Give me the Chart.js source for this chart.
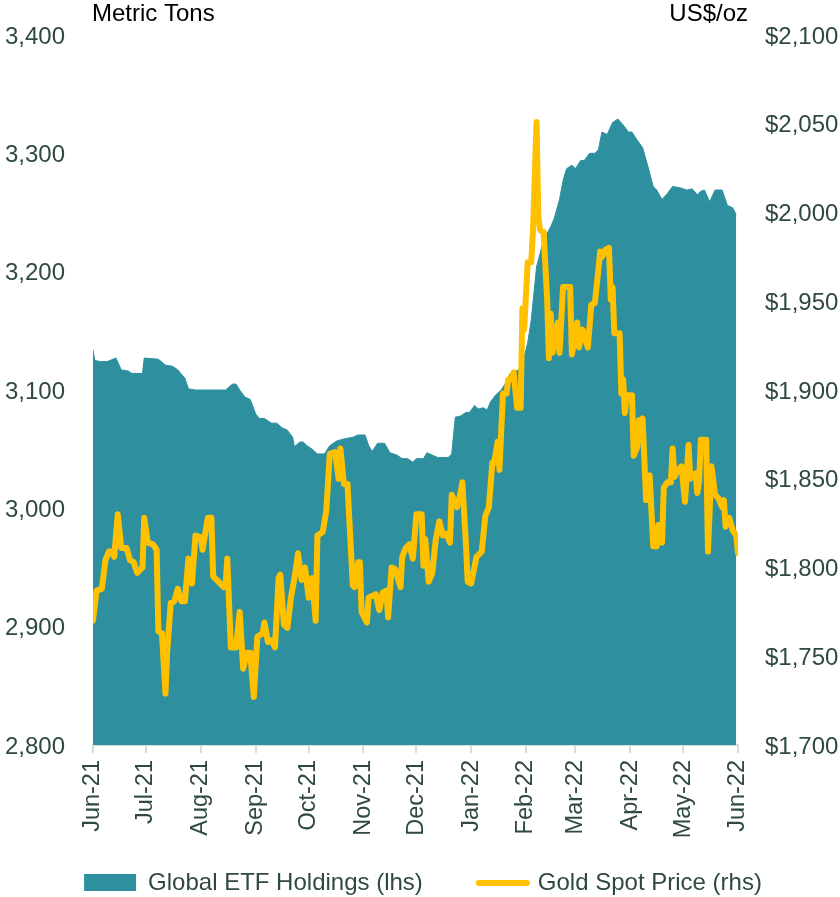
<!DOCTYPE html>
<html>
<head>
<meta charset="utf-8">
<script src="https://cdn.jsdelivr.net/npm/chart.js@4.4.1/dist/chart.umd.min.js"></script>
<style>
  html, body { margin: 0; padding: 0; background: #fff; }
  canvas { display: block; }
</style>
</head>
<body>
<canvas id="goldChart" width="840" height="897"></canvas>
<script>
// month ticks on the x axis
const monthLabels = ["Jun-21", "Jul-21", "Aug-21", "Sep-21", "Oct-21", "Nov-21", "Dec-21",
  "Jan-22", "Feb-22", "Mar-22", "Apr-22", "May-22", "Jun-22"];
const monthStarts = ["2021-06-01", "2021-07-01", "2021-08-01", "2021-09-01", "2021-10-01", "2021-11-01",
  "2021-12-01", "2022-01-01", "2022-02-01", "2022-03-01", "2022-04-01", "2022-05-01", "2022-06-01"];

// global gold ETF holdings, metric tons (lhs)
const etfDates = [
  "2021-06-01", "2021-06-02", "2021-06-05", "2021-06-09", "2021-06-14", "2021-06-17", "2021-06-21", "2021-06-23", "2021-06-29", "2021-06-30",
  "2021-07-08", "2021-07-12", "2021-07-16", "2021-07-19", "2021-07-23", "2021-07-25", "2021-07-29", "2021-08-15", "2021-08-19", "2021-08-21",
  "2021-08-23", "2021-08-26", "2021-08-29", "2021-09-01", "2021-09-03", "2021-09-06", "2021-09-10", "2021-09-13", "2021-09-16", "2021-09-19",
  "2021-09-22", "2021-09-23", "2021-09-26", "2021-09-28", "2021-09-30", "2021-10-03", "2021-10-06", "2021-10-10", "2021-10-13", "2021-10-17",
  "2021-10-22", "2021-10-26", "2021-10-29", "2021-11-02", "2021-11-04", "2021-11-06", "2021-11-09", "2021-11-13", "2021-11-16", "2021-11-20",
  "2021-11-23", "2021-11-26", "2021-11-29", "2021-12-01", "2021-12-05", "2021-12-07", "2021-12-10", "2021-12-13", "2021-12-19", "2021-12-21",
  "2021-12-23", "2021-12-26", "2021-12-29", "2021-12-31", "2022-01-03", "2022-01-05", "2022-01-08", "2022-01-10", "2022-01-12", "2022-01-15",
  "2022-01-18", "2022-01-21", "2022-01-23", "2022-01-28", "2022-01-30", "2022-02-02", "2022-02-04", "2022-02-07", "2022-02-11", "2022-02-15",
  "2022-02-17", "2022-02-20", "2022-02-22", "2022-02-24", "2022-02-27", "2022-03-01", "2022-03-04", "2022-03-06", "2022-03-09", "2022-03-12",
  "2022-03-14", "2022-03-16", "2022-03-19", "2022-03-22", "2022-03-25", "2022-03-28", "2022-03-31", "2022-04-02", "2022-04-05", "2022-04-08",
  "2022-04-11", "2022-04-14", "2022-04-16", "2022-04-19", "2022-04-22", "2022-04-25", "2022-04-29", "2022-05-03", "2022-05-06", "2022-05-09",
  "2022-05-11", "2022-05-13", "2022-05-16", "2022-05-19", "2022-05-23", "2022-05-26", "2022-05-29", "2022-05-31"
];
const etfTons = [
  3134, 3125, 3124, 3124, 3127, 3117, 3116, 3114, 3114, 3127,
  3126, 3121, 3120, 3117, 3110, 3101, 3100, 3100, 3105, 3105,
  3100, 3094, 3092, 3080, 3076, 3076, 3072, 3072, 3068, 3066,
  3060, 3052, 3056, 3056, 3053, 3050, 3046, 3046, 3053, 3057,
  3059, 3060, 3062, 3062, 3053, 3048, 3055, 3055, 3047, 3045,
  3042, 3042, 3039, 3042, 3042, 3047, 3045, 3043, 3043, 3046,
  3077, 3078, 3081, 3081, 3087, 3084, 3085, 3083, 3090, 3096,
  3100, 3107, 3114, 3117, 3122, 3140, 3159, 3204, 3227, 3238,
  3245, 3261, 3277, 3287, 3290, 3287, 3294, 3294, 3300, 3300,
  3303, 3318, 3316, 3326, 3329, 3324, 3318, 3318, 3311, 3305,
  3289, 3272, 3269, 3261, 3266, 3272, 3271, 3269, 3270, 3265,
  3268, 3269, 3259, 3269, 3269, 3256, 3254, 3248
];

// gold spot price, US$/oz (rhs)
const goldDates = [
  "2021-06-01", "2021-06-03", "2021-06-06", "2021-06-08", "2021-06-10", "2021-06-12", "2021-06-13", "2021-06-15", "2021-06-17", "2021-06-20",
  "2021-06-22", "2021-06-24", "2021-06-26", "2021-06-29", "2021-06-30", "2021-07-02", "2021-07-05", "2021-07-07", "2021-07-08", "2021-07-10",
  "2021-07-12", "2021-07-13", "2021-07-15", "2021-07-17", "2021-07-19", "2021-07-21", "2021-07-23", "2021-07-25", "2021-07-27", "2021-07-29",
  "2021-08-01", "2021-08-02", "2021-08-05", "2021-08-07", "2021-08-08", "2021-08-10", "2021-08-14", "2021-08-15", "2021-08-16", "2021-08-18",
  "2021-08-21", "2021-08-23", "2021-08-25", "2021-08-27", "2021-08-29", "2021-08-31", "2021-09-02", "2021-09-05", "2021-09-06", "2021-09-08",
  "2021-09-10", "2021-09-12", "2021-09-14", "2021-09-15", "2021-09-17", "2021-09-19", "2021-09-21", "2021-09-23", "2021-09-25", "2021-09-27",
  "2021-09-29", "2021-10-01", "2021-10-03", "2021-10-05", "2021-10-06", "2021-10-09", "2021-10-11", "2021-10-13", "2021-10-16", "2021-10-18",
  "2021-10-19", "2021-10-21", "2021-10-23", "2021-10-26", "2021-10-27", "2021-10-29", "2021-10-30", "2021-10-31", "2021-11-03", "2021-11-04",
  "2021-11-08", "2021-11-10", "2021-11-12", "2021-11-14", "2021-11-15", "2021-11-17", "2021-11-19", "2021-11-22", "2021-11-23", "2021-11-25",
  "2021-11-27", "2021-11-29", "2021-12-01", "2021-12-04", "2021-12-05", "2021-12-06", "2021-12-08", "2021-12-10", "2021-12-12", "2021-12-14",
  "2021-12-16", "2021-12-18", "2021-12-20", "2021-12-21", "2021-12-24", "2021-12-26", "2021-12-27", "2021-12-29", "2021-12-30", "2022-01-01",
  "2022-01-04", "2022-01-07", "2022-01-09", "2022-01-11", "2022-01-13", "2022-01-14", "2022-01-16", "2022-01-17", "2022-01-19", "2022-01-21",
  "2022-01-22", "2022-01-24", "2022-01-25", "2022-01-27", "2022-01-29", "2022-01-30", "2022-01-31", "2022-02-02", "2022-02-04", "2022-02-05",
  "2022-02-07", "2022-02-08", "2022-02-09", "2022-02-11", "2022-02-13", "2022-02-14", "2022-02-15", "2022-02-16", "2022-02-19", "2022-02-20",
  "2022-02-22", "2022-02-26", "2022-02-27", "2022-03-02", "2022-03-03", "2022-03-05", "2022-03-08", "2022-03-10", "2022-03-12", "2022-03-14",
  "2022-03-15", "2022-03-16", "2022-03-18", "2022-03-20", "2022-03-21", "2022-03-22", "2022-03-23", "2022-03-26", "2022-03-27", "2022-03-28",
  "2022-03-29", "2022-03-30", "2022-04-02", "2022-04-03", "2022-04-05", "2022-04-06", "2022-04-07", "2022-04-08", "2022-04-10", "2022-04-12",
  "2022-04-14", "2022-04-16", "2022-04-17", "2022-04-19", "2022-04-20", "2022-04-22", "2022-04-24", "2022-04-25", "2022-04-26", "2022-04-28",
  "2022-04-30", "2022-05-02", "2022-05-04", "2022-05-05", "2022-05-08", "2022-05-09", "2022-05-10", "2022-05-11", "2022-05-14", "2022-05-15",
  "2022-05-17", "2022-05-19", "2022-05-21", "2022-05-23", "2022-05-24", "2022-05-25", "2022-05-27", "2022-05-29", "2022-05-31", "2022-06-01"
];
const goldPrice = [
  1770, 1787, 1788, 1804, 1809, 1809, 1806, 1830, 1811, 1811,
  1804, 1803, 1797, 1800, 1828, 1814, 1813, 1810, 1764, 1763,
  1729, 1753, 1780, 1781, 1788, 1781, 1781, 1805, 1791, 1818,
  1817, 1810, 1828, 1828, 1795, 1793, 1789, 1790, 1805, 1755,
  1755, 1775, 1743, 1752, 1752, 1727, 1761, 1763, 1769, 1758,
  1759, 1755, 1794, 1796, 1768, 1766, 1783, 1794, 1808, 1793,
  1800, 1783, 1794, 1770, 1818, 1820, 1832, 1864, 1865, 1850,
  1867, 1847, 1847, 1790, 1789, 1803, 1803, 1775, 1769, 1783,
  1785, 1776, 1786, 1787, 1772, 1800, 1799, 1789, 1806, 1811,
  1813, 1805, 1830, 1830, 1801, 1816, 1792, 1797, 1816, 1826,
  1818, 1819, 1814, 1841, 1834, 1842, 1848, 1814, 1792, 1791,
  1806, 1809, 1829, 1834, 1859, 1859, 1871, 1855, 1898, 1898,
  1906, 1907, 1910, 1890, 1890, 1946, 1934, 1972, 1972, 1990,
  2051, 1998, 1990, 1989, 1951, 1918, 1943, 1921, 1938, 1921,
  1958, 1958, 1920, 1938, 1924, 1934, 1924, 1948, 1949, 1968,
  1978, 1975, 1979, 1980, 1951, 1958, 1932, 1932, 1898, 1906,
  1887, 1897, 1897, 1863, 1868, 1883, 1878, 1884, 1838, 1852,
  1812, 1812, 1824, 1814, 1845, 1848, 1848, 1867, 1851, 1855,
  1857, 1837, 1869, 1850, 1853, 1842, 1849, 1872, 1872, 1809,
  1857, 1841, 1839, 1834, 1838, 1823, 1828, 1821, 1818, 1808
];

const TEAL = "#2E909E";
const GOLD = "#FFC000";
const TEXT = "#2F4A3D";
const AXIS = "#D6DDD9";
const FONT = "'Liberation Sans', Arial, sans-serif";

// days since 1 Jun 2021, used as the x value
const t0 = Date.UTC(2021, 5, 1);
const dayOf = (s) => (Date.parse(s) - t0) / 86400000;
const monthX = monthStarts.map(dayOf);

// unit captions above the two value axes
const unitLabels = {
  id: "unitLabels",
  afterDraw(chart) {
    const { ctx, chartArea } = chart;
    ctx.save();
    ctx.font = "24px " + FONT;
    ctx.fillStyle = "#000";
    ctx.textBaseline = "middle";
    ctx.textAlign = "left";
    ctx.fillText("Metric Tons", chartArea.left - 1, 14);
    ctx.textAlign = "right";
    ctx.fillText("US$/oz", chartArea.right + 10, 14);
    ctx.restore();
  },
};

// legend row under the axis: teal box for the area, gold stroke for the line
const bottomLegend = {
  id: "bottomLegend",
  afterDraw(chart) {
    const { ctx } = chart;
    const items = chart.data.datasets.slice().reverse();
    ctx.save();
    ctx.font = "24px " + FONT;
    ctx.textBaseline = "middle";
    ctx.textAlign = "left";
    const y = 883;
    const keyW = 52, gapKey = 12, gapItem = 51;
    const widths = items.map((ds) => keyW + gapKey + ctx.measureText(ds.label).width);
    const total = widths.reduce((a, b) => a + b, 0) + gapItem * (items.length - 1);
    let x = chart.width / 2 + 3 - total / 2;
    items.forEach((ds, i) => {
      if (ds.fill) {
        ctx.fillStyle = ds.backgroundColor;
        ctx.fillRect(x, y - 9, keyW, 17);
      } else {
        ctx.strokeStyle = ds.borderColor;
        ctx.lineWidth = 6;
        ctx.lineCap = "round";
        ctx.beginPath();
        ctx.moveTo(x + 5, y);
        ctx.lineTo(x + keyW + 1, y);
        ctx.stroke();
      }
      ctx.fillStyle = TEXT;
      ctx.fillText(ds.label, x + keyW + gapKey, y);
      x += widths[i] + gapItem;
    });
    ctx.restore();
  },
};

const ctx = document.getElementById("goldChart").getContext("2d");

const goldChart = new Chart(ctx, {
  type: "line",
  data: {
    datasets: [
      {
        label: "Gold Spot Price (rhs)",
        data: goldDates.map((d, i) => ({ x: dayOf(d), y: goldPrice[i] })),
        yAxisID: "y1",
        borderColor: GOLD,
        borderWidth: 6,
        borderJoinStyle: "round",
        borderCapStyle: "round",
        pointRadius: 0,
        fill: false,
        tension: 0,
        order: 1,
      },
      {
        label: "Global ETF Holdings (lhs)",
        data: etfDates.map((d, i) => ({ x: dayOf(d), y: etfTons[i] })),
        yAxisID: "y",
        backgroundColor: TEAL,
        borderColor: TEAL,
        borderWidth: 1,
        pointRadius: 0,
        fill: "start",
        tension: 0,
        order: 2,
      },
    ],
  },
  plugins: [unitLabels, bottomLegend],

  options: {
    responsive: false,
    animation: false,
    layout: {
      padding: { top: 35, left: 0, right: 0, bottom: 0 },
    },
    scales: {
      x: {
        type: "linear",
        min: 0,
        max: 365,
        afterBuildTicks: (scale) => {
          scale.ticks = monthX.map((v) => ({ value: v }));
        },
        afterFit: (scale) => {
          scale.height = 152;
        },
        ticks: {
          autoSkip: false,
          minRotation: 90,
          maxRotation: 90,
          padding: 7,
          color: TEXT,
          font: { family: FONT, size: 23.5 },
          callback: (value, index) => monthLabels[index],
        },
        grid: {
          drawOnChartArea: false,
          color: AXIS,
          lineWidth: 2,
          tickLength: 8,
        },
        border: { color: AXIS, width: 2 },
      },
      y: {
        position: "left",
        min: 2800,
        max: 3400,
        afterFit: (scale) => {
          scale.width = 93;
        },
        ticks: {
          stepSize: 100,
          padding: 20,
          labelOffset: 2,
          color: TEXT,
          font: { family: FONT, size: 24 },
          callback: (value) => value.toLocaleString("en-US"),
        },
        grid: { display: false },
        border: { display: false },
      },
      y1: {
        position: "right",
        min: 1700,
        max: 2100,
        afterFit: (scale) => {
          scale.width = 102;
        },
        ticks: {
          stepSize: 50,
          padding: 19,
          labelOffset: 2,
          color: TEXT,
          font: { family: FONT, size: 24 },
          callback: (value) => "$" + value.toLocaleString("en-US"),
        },
        grid: { display: false },
        border: { display: false },
      },
    },

    plugins: {
      tooltip: { enabled: false },
      legend: { display: false },
    },
  },
});
</script>
</body>
</html>
